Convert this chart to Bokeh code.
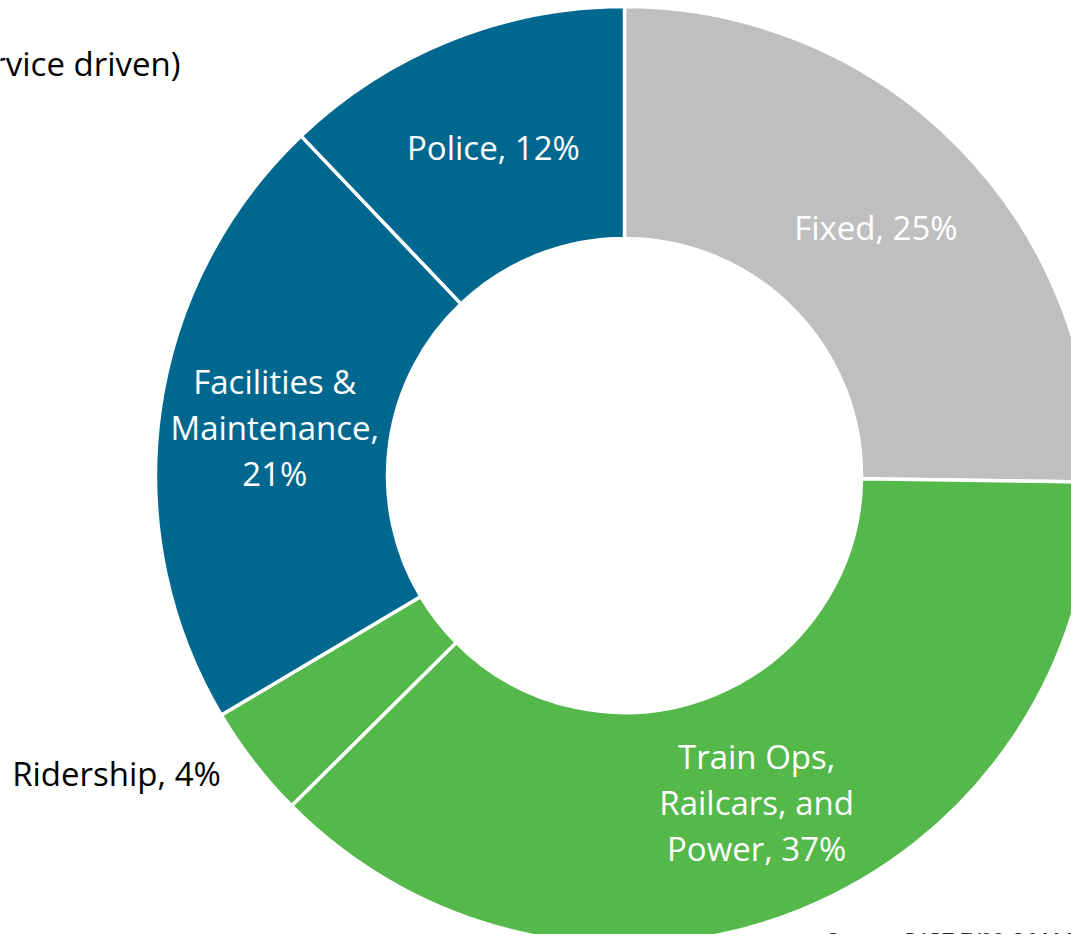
import numpy as np
from bokeh.plotting import figure
from bokeh.models import Range1d, ColumnDataSource
from bokeh.core.properties import value
from bokeh.embed import file_html
from bokeh.resources import INLINE

# ---- data ----
categories = ["Fixed", "Train Ops, Railcars, and Power", "Ridership",
              "Facilities & Maintenance", "Police"]
shares = [25.2, 37.3, 3.9, 21.4, 12.1]          # percent of budget
label_templates = ["Fixed, {}", "Train Ops,\nRailcars, and\nPower, {}", "Ridership, {}",
                   "Facilities &\nMaintenance,\n{}", "Police, {}"]
colors = ["#BFBFBF", "#54B84A", "#54B84A", "#00688F", "#00688F"]
label_inside = [True, True, False, True, True]
title_fragment = "(Service driven)"
source_note = "Source: BART FY23 O&M Budget"

# ---- layout ----
W, H = 1071, 934
cx, cy = 624, -475
r_in, r_out = 237, 469
FONT = "Open Sans"
FS = "33px"
LINE_H = 46

p = figure(width=W, height=H, output_backend="svg", toolbar_location=None,
           x_range=Range1d(0, W), y_range=Range1d(-H, 0),
           min_border=0, min_border_left=0, min_border_right=0,
           min_border_top=0, min_border_bottom=0)
p.axis.visible = False
p.xgrid.visible = False
p.ygrid.visible = False
p.outline_line_color = None
p.background_fill_color = "white"
p.border_fill_color = "white"

vals = np.array(shares, dtype=float)
frac = vals / vals.sum()
cum_end = np.cumsum(frac)
cum_start = cum_end - frac
a_hi = np.pi / 2 - 2 * np.pi * cum_start
a_lo = np.pi / 2 - 2 * np.pi * cum_end

src = ColumnDataSource(dict(start=a_lo, end=a_hi, color=colors, cat=categories))
p.annular_wedge(x=cx, y=cy, inner_radius=r_in, outer_radius=r_out,
                start_angle="start", end_angle="end", direction="anticlock",
                fill_color="color", line_color="white", line_width=3.5, source=src)

lx, ly, lt, lc = [], [], [], []
r_mid = (r_in + r_out) / 2
for i, s in enumerate(shares):
    txt = label_templates[i].format(f"{round(s)}%")
    lines = txt.split("\n")
    n = len(lines)
    if label_inside[i]:
        mid = (a_lo[i] + a_hi[i]) / 2
        x0 = cx + r_mid * np.cos(mid)
        y0 = cy + r_mid * np.sin(mid)
        col = "white"
    else:
        x0, y0 = 116, -773
        col = "black"
    for j, line in enumerate(lines):
        lx.append(x0)
        ly.append(y0 + ((n - 1) / 2 - j) * LINE_H)
        lt.append(line)
        lc.append(col)

p.text(x=lx, y=ly, text=lt, text_color=lc, text_font=value(FONT), text_font_size=FS,
       text_align="center", text_baseline="middle")

p.text(x=[180], y=[-63], text=[title_fragment], text_color="black", text_font=value(FONT),
       text_font_size=FS, text_align="right", text_baseline="middle")

p.text(x=[825], y=[-924], text=[source_note], text_color="#222222", text_font=value(FONT),
       text_font_size="22px", text_font_style="italic", text_align="left", text_baseline="top")

open("out.html", "w").write(file_html(p, INLINE))
